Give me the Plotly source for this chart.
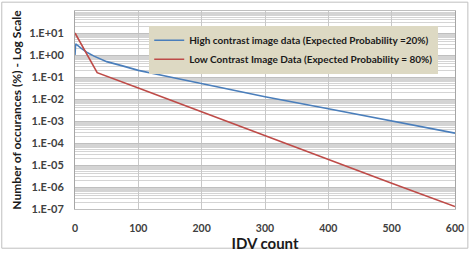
import plotly.graph_objects as go

# High contrast data (blue) - IDV count vs occurrences (%)
high_x = [0, 1, 10, 20, 30, 50, 75, 100, 150, 200, 300, 400, 500, 600]
high_y = [1.0, 3.2, 2.0, 1.26, 0.89, 0.5, 0.32, 0.2, 0.1, 0.05, 0.0126, 0.0036, 0.001, 0.00028]

# Low contrast data (red)
low_x = [0, 35, 100, 200, 300, 400, 500, 600]
low_y = [10.0, 0.158, 0.032, 0.0026, 0.00022, 0.000018, 0.0000015, 0.00000013]

y_tickvals = [1e-7, 1e-6, 1e-5, 1e-4, 1e-3, 1e-2, 1e-1, 1e0, 1e1]
y_ticktext = ["1.E-07", "1.E-06", "1.E-05", "1.E-04", "1.E-03", "1.E-02", "1.E-01", "1.E+00", "1.E+01"]
x_tickvals = [0, 100, 200, 300, 400, 500, 600]

W, H = 474, 254
ML, MR, MT, MB = 75, 15, 10, 42
PW, PH = W - ML - MR, H - MT - MB

font_family = "Lato, Open Sans, Liberation Sans, sans-serif"

fig = go.Figure()
fig.add_trace(go.Scatter(x=high_x, y=high_y, mode="lines",
                         line=dict(color="#4a7ebb", width=1.6),
                         name="High contrast image data (Expected Probability =20%)"))
fig.add_trace(go.Scatter(x=low_x, y=low_y, mode="lines",
                         line=dict(color="#be4b48", width=1.6),
                         name="Low Contrast Image Data (Expected Probability = 80%)"))

fig.update_layout(
    width=W, height=H,
    margin=dict(l=ML, r=MR, t=MT, b=MB),
    paper_bgcolor="white", plot_bgcolor="white",
    font=dict(family=font_family, color="#262626"),
    showlegend=True,
    legend=dict(x=(150 - ML) / PW, y=(PH - (25 - MT)) / PH, xanchor="left", yanchor="top",
                bgcolor="#ddd9c3", font=dict(size=10, family=font_family, color="#1a1a1a", weight="bold"),
                itemwidth=30, tracegroupgap=2, borderwidth=0),
    xaxis=dict(range=[0, 600], tickvals=x_tickvals, showgrid=True, gridcolor="#c8c8c8", gridwidth=1,
               showline=True, linecolor="#bfbfbf", mirror=True, zeroline=False,
               ticks="", ticklabelstandoff=9, tickfont=dict(size=10.5, color="#404040", weight="bold"),
               title=dict(text="IDV count", font=dict(size=15, weight="bold", color="#1a1a1a"), standoff=0)),
    yaxis=dict(type="log", range=[-7, 2], tickvals=y_tickvals, ticktext=y_ticktext,
               showgrid=True, gridcolor="#bfbfbf", gridwidth=1,
               minor=dict(showgrid=True, gridcolor="#d4d4d4", gridwidth=1, dtick="D1"),
               showline=True, linecolor="#a6a6a6", mirror=True, zeroline=False,
               ticks="", ticklabelstandoff=8, tickfont=dict(size=11, color="#404040", weight="bold"),
               title=dict(text="Number of occurances (%) - Log Scale",
                          font=dict(size=12, weight="bold", color="#1a1a1a"), standoff=5)),
    shapes=[dict(type="rect", xref="paper", yref="paper",
                 x0=-(ML - 1) / PW, x1=1 + (MR - 2) / PW,
                 y0=-(MB - 2) / PH, y1=1 + (MT - 1) / PH,
                 line=dict(color="#bfbfbf", width=1), layer="below")],
)

fig.write_html("out.html", config={"displayModeBar": False},
               post_script="document.body.style.margin='0';document.body.style.overflow='hidden';")
